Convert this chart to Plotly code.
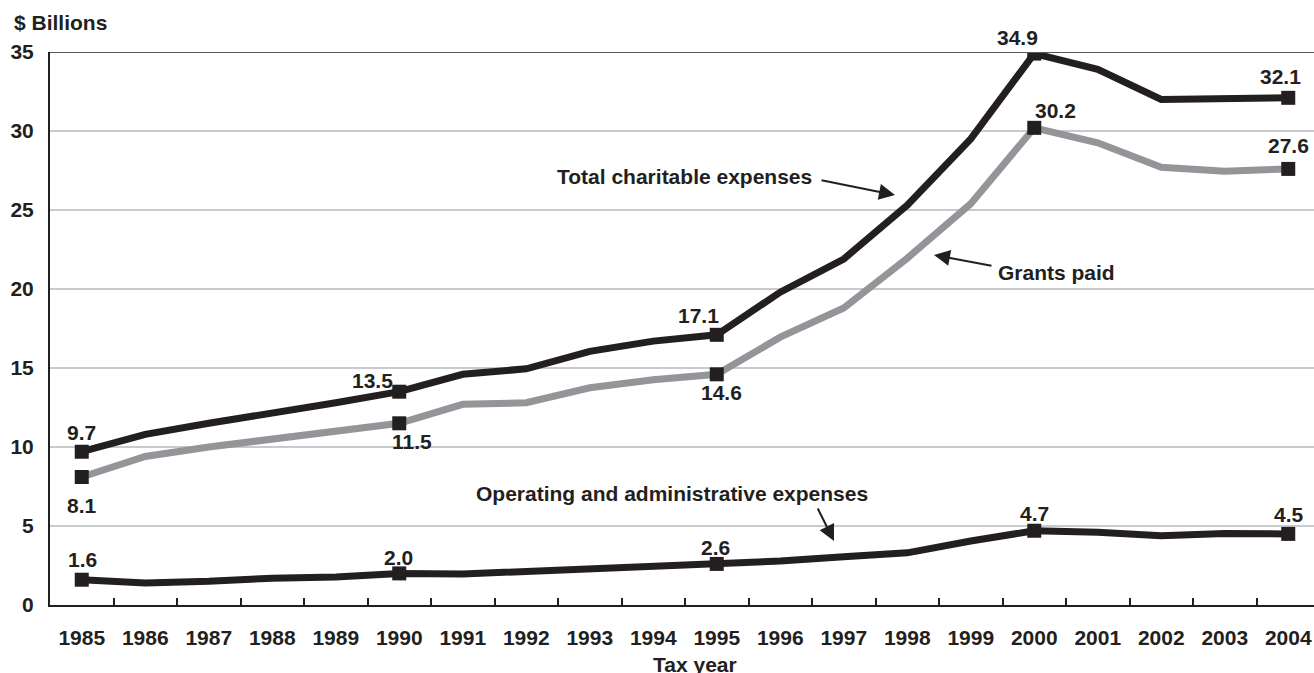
import plotly.graph_objects as go

years = list(range(1985, 2005))
total_charitable = [9.7, 10.8, 11.5, 12.1, 12.8, 13.5, 14.6, 14.95, 16.05, 16.7, 17.1,
                    19.8, 21.9, 25.3, 29.5, 34.9, 33.9, 32.0, 32.0, 32.1]
grants_paid = [8.1, 9.4, 10.0, 10.5, 11.05, 11.5, 12.7, 12.8, 13.75, 14.25, 14.6,
               16.95, 18.8, 21.95, 25.4, 30.2, 29.25, 27.7, 27.45, 27.6]
operating_admin = [1.6, 1.4, 1.5, 1.7, 1.77, 2.0, 1.96, 2.12, 2.28, 2.42, 2.6,
                   2.78, 3.05, 3.3, 4.05, 4.7, 4.6, 4.38, 4.52, 4.5]
key_years = [1985, 1990, 1995, 2000, 2004]
y_ticks = [0, 5, 10, 15, 20, 25, 30, 35]

BLACK = "#231f20"
GREY = "#939598"
FONT = "Liberation Sans, Arial, sans-serif"
FS = 21

# layout geometry (pixels)
L, R, T, B = 50, 0, 52, 68
W, H = 1314, 673
PW, PH = W - L - R, H - T - B
CAT = 63.5  # px per year


def px(xp):
    return (xp - L) / PW


def py(yp):
    return (T + PH - yp) / PH


fig = go.Figure()

series = [
    ("Grants paid", grants_paid, GREY),
    ("Total charitable expenses", total_charitable, BLACK),
    ("Operating and administrative expenses", operating_admin, BLACK),
]
for name, vals, col in series:
    fig.add_trace(go.Scatter(x=years, y=vals, mode="lines", name=name,
                             line=dict(color=col, width=7), showlegend=False,
                             hoverinfo="skip"))
for name, vals, col in series:
    kx = [y for y in years if y in key_years]
    ky = [v for y, v in zip(years, vals) if y in key_years]
    fig.add_trace(go.Scatter(x=kx, y=ky, mode="markers", showlegend=False,
                             marker=dict(symbol="square", size=14, color=BLACK,
                                         line=dict(width=0)),
                             hoverinfo="skip"))

# value labels (xshift, yshift) per key year
label_shifts = {
    "Total charitable expenses": [(0, 19), (-27, 11), (-18, 19), (-17, 16), (-8, 21)],
    "Grants paid": [(0, -28), (13, -18), (5, -18), (21, 17), (0, 23)],
    "Operating and administrative expenses": [(1, 20), (-1, 16), (-1, 16), (0, 17), (1, 19)],
}
annotations = []
for name, vals, col in series:
    ks = [(y, v) for y, v in zip(years, vals) if y in key_years]
    for (yr, v), (dx, dy) in zip(ks, label_shifts[name]):
        annotations.append(dict(x=yr, y=v, xref="x", yref="y", text=f"{v:.1f}",
                                showarrow=False, xshift=dx, yshift=dy,
                                font=dict(size=FS, color=BLACK, family=FONT, weight="bold")))


def text_ann(t, xc, yc):
    return dict(x=px(xc), y=py(yc), xref="paper", yref="paper", text=t,
                showarrow=False, xanchor="center", yanchor="middle",
                font=dict(size=FS, color=BLACK, family=FONT, weight="bold"))


def arrow_ann(x0, y0, x1, y1):
    return dict(x=px(x1), y=py(y1), xref="paper", yref="paper", text="",
                showarrow=True, ax=x0 - x1, ay=y0 - y1, axref="pixel", ayref="pixel",
                arrowhead=2, arrowsize=1.6, arrowwidth=2, arrowcolor=BLACK)


annotations += [
    text_ann("Total charitable expenses", 684, 176),
    arrow_ann(820, 180, 895, 195),
    text_ann("Grants paid", 1056, 272),
    arrow_ann(993, 266, 934, 255),
    text_ann("Operating and administrative expenses", 672, 493),
    arrow_ann(817, 507, 834, 541),
    dict(x=px(12), y=py(22), xref="paper", yref="paper", text="$ Billions",
         showarrow=False, xanchor="left", yanchor="middle",
         font=dict(size=FS, color=BLACK, family=FONT, weight="bold")),
    dict(x=px(695), y=py(664), xref="paper", yref="paper", text="Tax year",
         showarrow=False, xanchor="center", yanchor="middle",
         font=dict(size=FS, color=BLACK, family=FONT, weight="bold")),
]

fig.update_layout(
    width=W, height=H,
    margin=dict(l=L, r=R, t=T, b=B, pad=0, autoexpand=False),
    paper_bgcolor="white", plot_bgcolor="white",
    font=dict(family=FONT, size=FS, color=BLACK, weight="bold"),
    annotations=annotations,
    shapes=[dict(type="line", xref="paper", yref="y", x0=0, x1=1, y0=35, y1=35,
                 line=dict(color="#58595b", width=2), layer="above")],
)
fig.update_xaxes(
    range=[1984.5, 1984.5 + PW / CAT],
    tickvals=years, ticktext=[str(y) for y in years],
    ticks="", showgrid=False, zeroline=False,
    showline=True, linecolor=BLACK, linewidth=2,
    ticklabelstandoff=13,
    tickfont=dict(size=FS, color=BLACK, family=FONT, weight="bold"),
    minor=dict(tickvals=[y + 0.5 for y in years[:-1]], ticks="inside",
               ticklen=7, tickwidth=1.5, tickcolor=BLACK, showgrid=False),
)
fig.update_yaxes(
    range=[0, 35], tickvals=y_ticks, ticks="",
    showgrid=True, gridcolor="#c9cacc", gridwidth=2,
    zeroline=False, showline=True, linecolor=BLACK, linewidth=2,
    ticklabelstandoff=10,
    tickfont=dict(size=FS, color=BLACK, family=FONT, weight="bold"),
)

fig.write_html("out.html", config={"displayModeBar": False},
               post_script="document.body.style.margin='0';document.body.style.overflow='hidden';")
